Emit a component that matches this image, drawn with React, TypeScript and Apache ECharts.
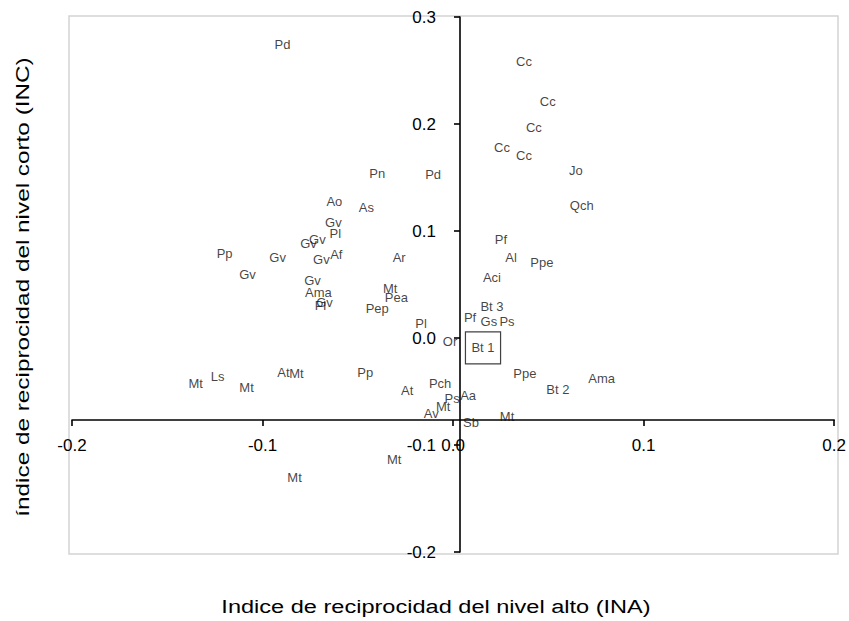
import React, { useEffect, useRef } from "react";
import * as echarts from "echarts";

// Species / group labels, INA (x) and INC (y) values
const speciesLabels = [
  "Pd", "Pn", "Pd", "Ao", "As", "Gv", "Pl", "Gv", "Gv", "Pp",
  "Gv", "Gv", "Af", "Ar", "Gv", "Gv", "Ama", "Mt", "Pea", "Pl",
  "Gv", "Pep", "Pl", "Cc", "Cc", "Cc", "Cc", "Cc", "Jo", "Qch",
  "Pf", "Al", "Ppe", "Aci", "Bt 3", "Pf", "Gs", "Ps", "Or", "Bt 1",
  "Ppe", "Bt 2", "Ama", "Pch", "At", "Aa", "Ps", "Mt", "Av", "Sb",
  "Mt", "Mt", "Ls", "Mt", "At", "Mt", "Pp", "Mt", "Mt",
];
const inaValues = [
  -0.0895, -0.0398, -0.0105, -0.0623, -0.0455, -0.0628, -0.0618, -0.0712, -0.0759, -0.1199,
  -0.0921, -0.0691, -0.0613, -0.0283, -0.1079, -0.0738, -0.0707, -0.033, -0.0298, -0.0696,
  -0.0675, -0.0398, -0.0168, 0.0372, 0.0497, 0.0424, 0.0257, 0.0372, 0.0644, 0.0675,
  0.0251, 0.0304, 0.0466, 0.0204, 0.0204, 0.0089, 0.0188, 0.0283, -0.0016, 0.0157,
  0.0377, 0.055, 0.078, -0.0068, -0.0241, 0.0079, -0.0005, -0.0052, -0.0115, 0.0094,
  0.0283, -0.1351, -0.1236, -0.1084, -0.089, -0.0822, -0.0461, -0.0309, -0.0832,
];
const incValues = [
  0.274, 0.154, 0.153, 0.128, 0.1215, 0.1075, 0.098, 0.0925, 0.0879, 0.0794,
  0.0757, 0.0729, 0.0776, 0.0748, 0.0589, 0.0542, 0.0421, 0.0458, 0.0383, 0.0308,
  0.0336, 0.028, 0.0131, 0.258, 0.2206, 0.1963, 0.1776, 0.1701, 0.157, 0.1234,
  0.0916, 0.0757, 0.071, 0.057, 0.029, 0.0196, 0.015, 0.015, -0.0037, -0.0093,
  -0.0336, -0.0477, -0.0383, -0.0421, -0.0495, -0.0533, -0.0561, -0.0636, -0.0701, -0.0794,
  -0.0738, -0.0421, -0.0364, -0.0467, -0.0327, -0.0336, -0.0318, -0.1131, -0.1308,
];
const boxedLabel = "Bt 1";

const xAxisTitle = "Indice de reciprocidad del nivel alto (INA)";
const yAxisTitle = "índice de reciprocidad del nivel corto (INC)";

const FONT = "'Liberation Sans', Arial, sans-serif";

export default function App() {
  const ref = useRef<HTMLDivElement>(null);

  useEffect(() => {
    if (!ref.current) return;
    const chart = echarts.init(ref.current, null, { renderer: "svg" });

    const data = speciesLabels.map((name, i) => {
      const item: any = { name, value: [inaValues[i], incValues[i]] };
      if (name === boxedLabel) {
        item.label = {
          borderColor: "#111",
          borderWidth: 1.2,
          padding: [10, 6, 9, 6],
        };
      }
      return item;
    });

    chart.setOption({
      animation: false,
      backgroundColor: "#fff",
      grid: { left: 72, right: 13, top: 17, bottom: 69, containLabel: false },
      xAxis: {
        type: "value",
        min: -0.2,
        max: 0.2,
        interval: 0.1,
        position: "bottom",
        offset: -132,
        axisLine: { onZero: false, lineStyle: { color: "#000", width: 1.6 } },
        axisTick: { show: true, inside: false, length: 6, lineStyle: { color: "#000", width: 1.6 } },
        axisLabel: {
          color: "#000",
          fontSize: 17,
          fontFamily: FONT,
          margin: 17,
          showMinLabel: true,
          showMaxLabel: true,
          formatter: (v: number) => v.toFixed(1),
        },
        splitLine: { show: false },
      },
      yAxis: {
        type: "value",
        min: -0.2,
        max: 0.3,
        interval: 0.1,
        position: "left",
        offset: -388,
        axisLine: { onZero: false, lineStyle: { color: "#000", width: 1.6 } },
        axisTick: { show: true, inside: false, length: 6, lineStyle: { color: "#000", width: 1.6 } },
        axisLabel: {
          color: "#000",
          fontSize: 17,
          fontFamily: FONT,
          margin: 24,
          showMinLabel: true,
          showMaxLabel: true,
          formatter: (v: number) => v.toFixed(1),
        },
        splitLine: { show: false },
      },
      graphic: [
        {
          type: "rect",
          silent: true,
          z: -1,
          shape: { x: 69, y: 16, width: 769, height: 538 },
          style: { fill: "none", stroke: "#d4d4d4", lineWidth: 1.5 },
        },
        {
          type: "text",
          x: 436,
          y: 607,
          scaleX: 1.24,
          style: {
            text: xAxisTitle,
            fontSize: 19,
            fontFamily: FONT,
            fill: "#000",
            align: "center",
            verticalAlign: "middle",
          },
        },
        {
          type: "text",
          x: 22,
          y: 287,
          rotation: Math.PI / 2,
          scaleX: 1.28,
          style: {
            text: yAxisTitle,
            fontSize: 19,
            fontFamily: FONT,
            fill: "#000",
            align: "center",
            verticalAlign: "middle",
          },
        },
      ],
      series: [
        {
          type: "scatter",
          symbolSize: 0.1,
          itemStyle: { color: "transparent" },
          data,
          label: {
            show: true,
            position: "inside",
            formatter: "{b}",
            color: "#111",
            fontSize: 13,
            fontFamily: FONT,
            align: "center",
            verticalAlign: "middle",
          },
          labelLayout: { hideOverlap: false },
        },
      ],
    });

    return () => chart.dispose();
  }, []);

  return (
    <div
      ref={ref}
      style={{ position: "fixed", left: 0, top: 0, width: 849, height: 621, background: "#fff" }}
    />
  );
}
